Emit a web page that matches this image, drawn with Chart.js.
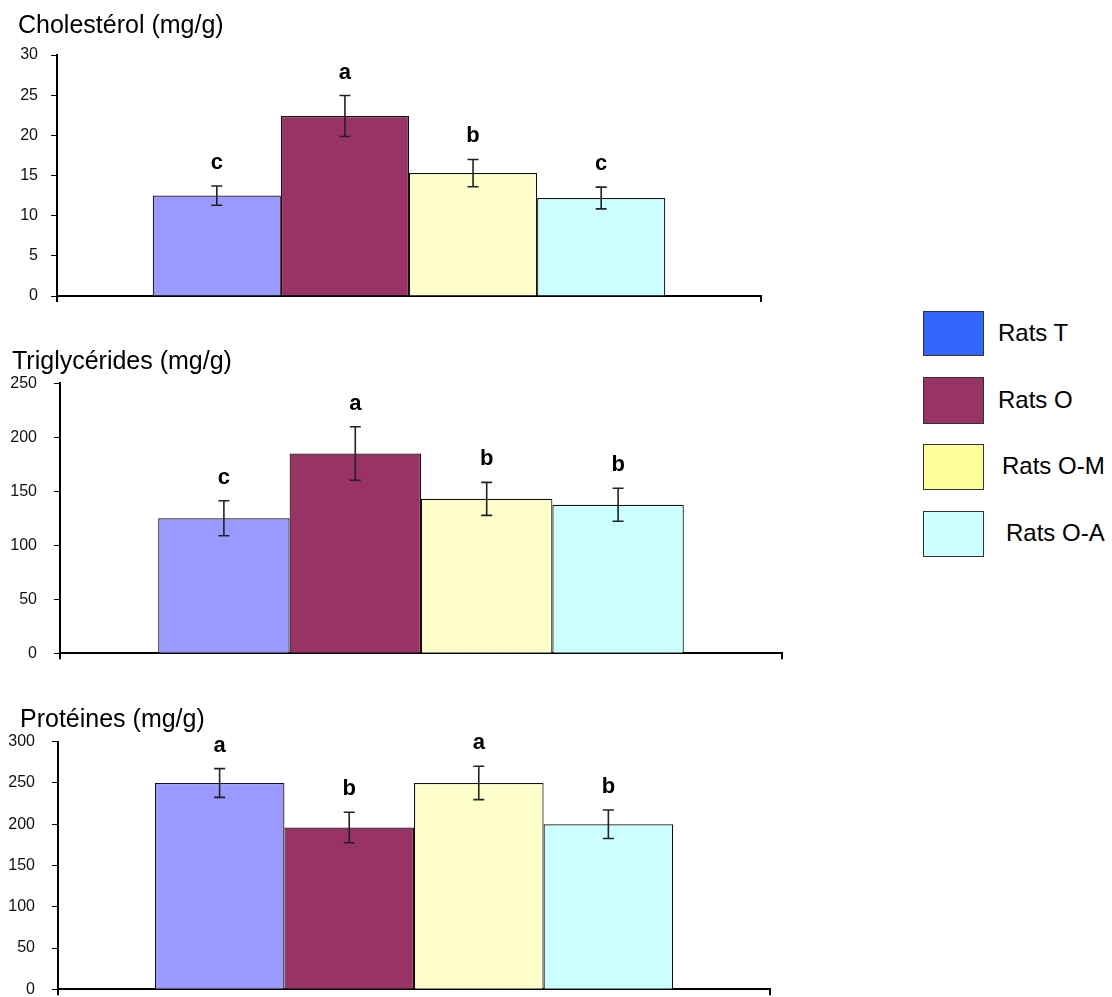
<!DOCTYPE html>
<html>
<head>
<meta charset="utf-8">
<script src="https://cdn.jsdelivr.net/npm/chart.js@4.4.1/dist/chart.umd.min.js"></script>
<style>
  html, body { margin: 0; background: #fff; font-family: "Liberation Sans", Arial, sans-serif; }
  #page { position: relative; width: 1112px; height: 997px; overflow: hidden; }
  .wrap { position: absolute; width: 800px; left: 0; }
  .title { position: absolute; font-size: 25px; line-height: 24px; color: #000; white-space: nowrap; }
  .legend { position: absolute; left: 923px; top: 0; }
  .legend .box { position: absolute; left: 0; width: 59px; border: 1.5px solid #333; }
  .legend .txt { position: absolute; font-size: 24px; color: #000; white-space: nowrap; line-height: 24px; }
</style>
</head>
<body>
<div id="page">
  <div class="wrap" style="top:25px;height:301px"><canvas id="chol"></canvas></div>
  <div class="wrap" style="top:353px;height:330px"><canvas id="trig"></canvas></div>
  <div class="wrap" style="top:712px;height:307px"><canvas id="prot"></canvas></div>
  <div class="title" style="left:18px;top:12px">Cholestérol (mg/g)</div>
  <div class="title" style="left:12px;top:348px">Triglycérides (mg/g)</div>
  <div class="title" style="left:20px;top:706px">Protéines (mg/g)</div>
  <div class="legend" id="legend"></div>
</div>
<script>
const groups = ['Rats T', 'Rats O', 'Rats O-M', 'Rats O-A']
const barColors = ['#9999FF', '#993366', '#FFFFCC', '#CCFFFF']
const legendColors = ['#3366FF', '#993366', '#FFFF99', '#CCFFFF']

const cholMean = [12.5, 22.4, 15.3, 12.2]
const cholErr = [1.2, 2.55, 1.7, 1.35]
const cholLetters = ['c', 'a', 'b', 'c']

const trigMean = [125, 185, 143, 137.5]
const trigErr = [16.2, 24.7, 15.3, 15.3]
const trigLetters = ['c', 'a', 'b', 'b']

const protMean = [250, 196, 250, 200]
const protErr = [17.4, 18.5, 20.2, 17.2]
const protLetters = ['a', 'b', 'a', 'b']

// error bars + significance letters
const errPlugin = {
  id: 'errbars',
  afterDatasetsDraw(chart, args, opts) {
    const ctx = chart.ctx
    const y = chart.scales.y
    chart.data.datasets.forEach((ds, i) => {
      const bar = chart.getDatasetMeta(i).data[0]
      const v = ds.data[0]
      const e = opts.err[i]
      const top = y.getPixelForValue(v + e)
      const bot = y.getPixelForValue(v - e)
      ctx.save()
      ctx.strokeStyle = '#222'
      ctx.lineWidth = 1.6
      ctx.beginPath()
      ctx.moveTo(bar.x, top); ctx.lineTo(bar.x, bot)
      ctx.moveTo(bar.x - 5.5, top); ctx.lineTo(bar.x + 5.5, top)
      ctx.moveTo(bar.x - 5.5, bot); ctx.lineTo(bar.x + 5.5, bot)
      ctx.stroke()
      ctx.fillStyle = '#000'
      ctx.font = 'bold 22px "Liberation Sans", Arial, sans-serif'
      ctx.textAlign = 'center'
      ctx.textBaseline = 'alphabetic'
      ctx.fillText(opts.letters[i], bar.x, top - 17)
      ctx.restore()
    })
  }
}

function makeChart(id, means, errs, letters, max, step, pad, yWidth, tickPad) {
  const ctx = document.getElementById(id).getContext('2d')
  return new Chart(ctx, {
    type: 'bar',
    data: {
      labels: [''],
      datasets: groups.map((g, i) => ({
        label: g,
        data: [means[i]],
        backgroundColor: barColors[i],
        borderColor: '#111',
        borderWidth: 1.2,
        categoryPercentage: 0.728,
        barPercentage: 1
      }))
    },
    options: {
      responsive: true,
      maintainAspectRatio: false,
      animation: false,
      layout: { padding: pad },
      plugins: {
        legend: { display: false },
        tooltip: { enabled: false },
        errbars: { err: errs, letters }
      },
      scales: {
        x: {
          ticks: { display: false },
          grid: { drawOnChartArea: false, offset: true, color: '#000', lineWidth: 2, tickLength: 6 },
          border: { color: '#000', width: 2 },
          afterFit: s => { s.height = 6 }
        },
        y: {
          min: 0,
          max,
          ticks: {
            stepSize: step,
            color: '#111',
            padding: tickPad,
            font: { family: '"Liberation Sans", Arial, sans-serif', size: 16 }
          },
          grid: { drawOnChartArea: false, color: '#000', lineWidth: 1, tickLength: 6 },
          border: { color: '#000', width: 2 },
          afterFit: s => { s.width = yWidth }
        }
      }
    },
    plugins: [errPlugin]
  })
}

makeChart('chol', cholMean, cholErr, cholLetters, 30, 5,
  { left: 0, right: 39, top: 30, bottom: 24 }, 57, 13)
makeChart('trig', trigMean, trigErr, trigLetters, 250, 50,
  { left: 0, right: 18, top: 30.3, bottom: 23.7 }, 60, 17)
makeChart('prot', protMean, protErr, protLetters, 300, 50,
  { left: 0, right: 30, top: 29.7, bottom: 23.7 }, 58, 17)

// legend on the right
const boxTops = [311, 377, 444, 511]
const boxHeights = [43, 45, 44, 44]
const txtLefts = [75, 75, 79, 83]
const leg = document.getElementById('legend')
groups.forEach((g, i) => {
  const b = document.createElement('div')
  b.className = 'box'
  b.style.top = boxTops[i] + 'px'
  b.style.height = boxHeights[i] + 'px'
  b.style.background = legendColors[i]
  leg.appendChild(b)
  const t = document.createElement('div')
  t.className = 'txt'
  t.textContent = g
  t.style.left = txtLefts[i] + 'px'
  t.style.top = (boxTops[i] + boxHeights[i] / 2 - 12) + 'px'
  leg.appendChild(t)
})
</script>
</body>
</html>
